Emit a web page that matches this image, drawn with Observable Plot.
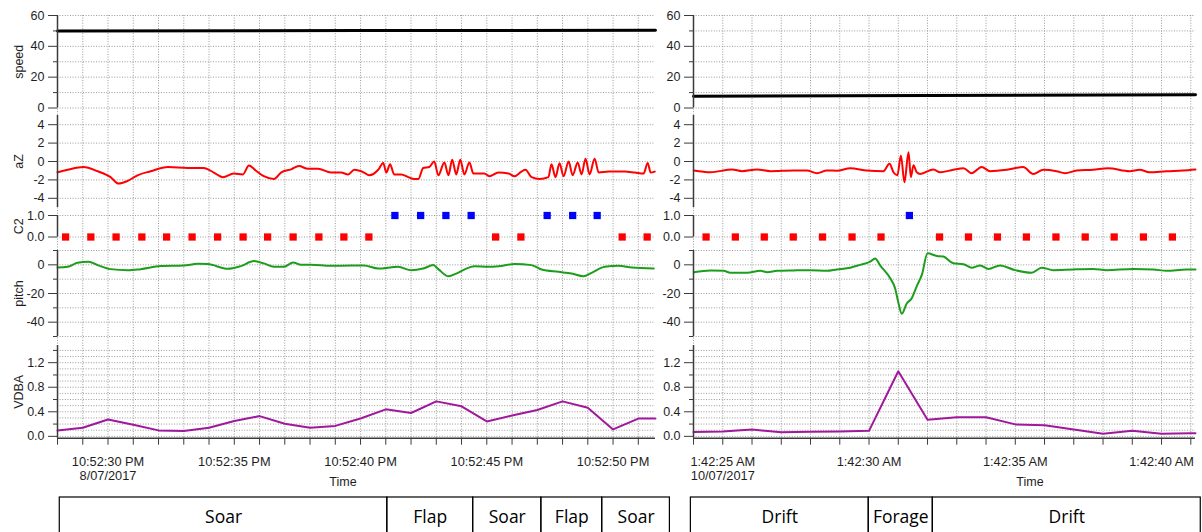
<!DOCTYPE html>
<html><head><meta charset="utf-8">
<script src="https://cdn.jsdelivr.net/npm/d3@7"></script>
<script src="https://cdn.jsdelivr.net/npm/@observablehq/plot@0.6"></script>
<style>
html,body{margin:0;padding:0;background:#fff;overflow:hidden;}
#root{position:relative;width:1202px;height:532px;overflow:hidden;font-family:"Liberation Sans",Arial,sans-serif;}
#root svg{position:absolute;}
.xt{position:absolute;font:12.5px "Liberation Sans",Arial,sans-serif;color:#1e1e1e;transform:translateX(-50%);white-space:nowrap;}
</style></head><body><div id="root"></div>
<script>
// ---------- DATA (seconds past the minute) ----------
// Left recording: 8/07/2017 10:52 PM
const speedLeftT = [28, 40, 51.68];
const speedLeftV = [50.0, 50.2, 50.4];
const azLeftT = [28.00,28.40,29.03,29.59,30.10,30.42,30.78,31.17,31.69,32.37,33.16,33.79,34.19,34.55,34.98,35.34,35.58,35.86,36.17,36.57,36.85,37.25,37.56,37.92,38.32,38.83,39.23,39.51,39.75,40.14,40.34,40.70,40.90,41.02,41.17,41.33,41.61,41.89,42.13,42.29,42.48,42.72,42.92,43.08,43.32,43.48,43.63,43.79,43.95,44.11,44.31,44.47,44.90,45.10,45.46,45.86,46.10,46.37,46.53,46.77,47.09,47.44,47.56,47.72,47.88,48.04,48.24,48.40,48.60,48.75,48.91,49.07,49.27,49.43,49.83,50.46,50.86,51.21,51.37,51.49,51.65];
const azLeftV = [-1.17,-0.9,-0.6,-1.06,-1.7,-2.4,-2.1,-1.5,-1.06,-0.6,-0.7,-0.7,-1.2,-1.7,-1.3,-1.4,-0.43,-1.0,-1.6,-1.9,-1.2,-0.85,-0.5,-0.8,-0.8,-1.2,-1.2,-1.4,-0.9,-1.2,-1.5,-0.9,-0.15,-1.2,-0.3,-1.4,-1.4,-1.7,-1.9,-1.9,-0.7,-0.6,0.0,-1.5,-0.1,-1.5,0.2,-1.4,0.2,-1.4,-0.1,-1.3,-1.3,-1.6,-1.2,-1.3,-1.6,-1.1,-0.9,-1.7,-1.9,-1.7,-0.3,-1.7,-0.2,-1.6,0.0,-1.5,-0.1,-1.4,0.3,-1.4,0.3,-1.2,-1.1,-1.1,-1.2,-1.3,-0.15,-1.2,-1.1];
const c2LeftT = [28.32,29.32,30.32,31.34,32.32,33.33,34.34,35.35,36.32,37.33,38.35,39.34,40.33,41.36,42.38,43.38,44.38,45.35,46.35,47.39,48.40,49.37,50.36,51.35];
const c2LeftV = [0,0,0,0,0,0,0,0,0,0,0,0,0,1,1,1,1,0,0,1,1,1,0,0];
const pitchLeftT = [28.00,28.40,28.79,29.23,29.59,30.10,30.78,31.29,32.09,33.00,33.56,33.95,34.75,35.26,35.78,36.17,36.57,36.97,37.33,37.64,38.04,38.83,39.63,40.14,40.70,41.49,42.01,42.48,42.88,43.08,43.48,43.79,44.11,44.51,45.06,45.46,46.10,46.77,47.17,47.84,48.36,48.83,49.15,49.67,50.22,50.74,51.61];
const pitchLeftV = [-1.9,-1.4,1.4,2.1,-0.2,-3.0,-3.8,-3.0,-0.9,-0.5,0.7,0.5,-2.8,-0.9,2.6,1.0,-1.4,-1.4,1.7,0,0,-0.7,-0.5,-0.5,-2.6,-1.4,-3.8,-2.6,-0.2,-3.0,-8.0,-6.1,-3.3,-1.0,-1.4,-1.0,0.5,-0.2,-3.3,-4.9,-6.1,-8.0,-5.6,-1.4,-0.7,-1.9,-2.6];
const vdbaLeftT = [28,29,30,31,32,33,34,35,36,37,38,39,40,41,42,43,44,45,46,47,48,49,50,51,51.68];
const vdbaLeftV = [0.097,0.14,0.275,0.19,0.097,0.086,0.14,0.25,0.33,0.205,0.14,0.17,0.29,0.44,0.38,0.57,0.49,0.243,0.34,0.43,0.57,0.465,0.113,0.29,0.29];
const leftXLabelSec = [30, 35, 40, 45, 50];
const leftXLabels = ["10:52:30 PM\n8/07/2017", "10:52:35 PM", "10:52:40 PM", "10:52:45 PM", "10:52:50 PM"];
const leftSegLabels = ["Soar", "Flap", "Soar", "Flap", "Soar"];
const leftSegBounds = [28.09, 41.06, 44.46, 47.16, 49.57, 52.25];

// Right recording: 10/07/2017 1:42 AM
const speedRightT = [24, 32, 41.16];
const speedRightV = [7.7, 8.1, 8.6];
const azRightT = [24.01,24.58,25.32,25.66,26.17,26.63,27.42,27.88,28.22,28.56,28.90,29.36,29.93,30.49,30.70,30.84,30.97,31.09,31.21,31.35,31.43,31.52,31.63,31.75,32.20,32.43,32.88,33.23,33.51,33.85,34.14,34.71,35.27,35.61,35.96,36.41,36.70,37.10,37.66,38.17,38.91,39.25,39.59,40.17,40.73,41.16];
const azRightV = [-0.98,-1.17,-0.87,-1.05,-0.87,-1.05,-0.98,-0.98,-1.27,-0.98,-1.0,-0.73,-0.98,-1.05,-0.25,-1.2,-1.5,0.65,-2.26,1.0,-1.7,-0.4,-1.17,-1.35,-0.87,-1.17,-0.9,-0.73,-1.27,-0.6,-1.05,-0.9,-0.6,-1.35,-0.9,-1.05,-1.27,-0.98,-0.9,-0.73,-1.05,-0.9,-1.17,-1.05,-0.98,-0.87];
const c2RightT = [24.43,25.43,26.42,27.41,28.41,29.42,30.41,31.38,32.41,33.40,34.39,35.38,36.39,37.39,38.38,39.38,40.37];
const c2RightV = [0,0,0,0,0,0,0,1,0,0,0,0,0,0,0,0,0];
const pitchRightT = [24.01,24.58,25.03,25.26,25.83,26.29,26.52,26.86,27.42,27.99,28.56,28.90,29.36,29.70,30.04,30.21,30.38,30.72,30.89,31.01,31.12,31.29,31.46,31.63,31.81,32.00,32.32,32.54,32.88,33.23,33.51,33.80,34.08,34.48,34.99,35.56,35.90,36.30,36.98,37.66,38.12,39.03,39.71,40.17,40.85,41.16];
const pitchRightV = [-5.1,-3.9,-4.2,-5.5,-5.5,-4.2,-5.1,-4.2,-3.9,-3.7,-4.2,-3.2,-2.0,0,2.2,4.4,-0.4,-9.2,-16.3,-27,-34.1,-27,-23.3,-15,-6.7,8.0,6.2,5.8,1.1,0.4,-2,-0.4,-2.9,-0.4,-3.7,-5.5,-2.0,-3.7,-3.2,-2.9,-3.7,-2.9,-3.2,-4.2,-3.2,-3.2];
const vdbaRightT = [24,25,26,27,28,29,30,31,32,33,34,35,36,37,38,39,40,41,41.16];
const vdbaRightV = [0.07,0.08,0.11,0.065,0.075,0.08,0.09,1.06,0.27,0.31,0.31,0.195,0.18,0.11,0.044,0.09,0.044,0.05,0.05];
const rightXLabelSec = [25, 30, 35, 40];
const rightXLabels = ["1:42:25 AM\n10/07/2017", "1:42:30 AM", "1:42:35 AM", "1:42:40 AM"];
const rightSegLabels = ["Drift", "Forage", "Drift"];
const rightSegBounds = [23.91, 29.99, 32.18, 41.34];

// y-axis ticks
const speedTicks = [0, 20, 40, 60], speedMinor = [10, 30, 50], speedGrid = [0,10,20,30,40,50,60];
const azTicks = [-4, -2, 0, 2, 4];
const c2Ticks = [0, 1];
const pitchTicks = [0, -20, -40], pitchMinor = [10, -10, -30, -50], pitchGrid = [10,0,-10,-20,-30,-40,-50];
const vdbaTicks = [0, 0.4, 0.8, 1.2], vdbaMinor = [0.2, 0.6, 1.0, 1.4], vdbaGrid = [0,0.1,0.2,0.3,0.4,0.5,0.6,0.7,0.8,0.9,1.0,1.1,1.2,1.3,1.4];

// ---------- LAYOUT ----------
const L0 = Date.UTC(2017, 6, 8, 22, 52, 0);
const R0 = Date.UTC(2017, 6, 10, 1, 42, 0);
const at = (base, s) => new Date(base + Math.round(s * 1000));
const series = (base, T, V) => T.map((t, i) => ({t: at(base, t), v: V[i]}));

const LEFT = {left: 0, width: 680, ml: 57, mr: 25, base: L0, domain: [at(L0, 28), at(L0, 51.68)],
  secs: d3.utcSecond.range(at(L0, 28), at(L0, 51.9)), labSec: leftXLabelSec, labs: leftXLabels, titles: true};
const RIGHT = {left: 633, width: 569, ml: 60, mr: 7, base: R0, domain: [at(R0, 24), at(R0, 41.16)],
  secs: d3.utcSecond.range(at(R0, 24), at(R0, 41.1)), labSec: rightXLabelSec, labs: rightXLabels, titles: false};

const rows = {speed: [15, 107.5], aZ: [115, 207], C2: [215, 236.5], pitch: [250, 336], VDBA: [345, 437.7]};
const GRID = "#9a9a9a", DASH = "1,1.6", AX = "#3a3a3a", TXT = "#1e1e1e";
const FONT = "'Liberation Sans', Arial, sans-serif";
const root = document.getElementById("root");

function bgGrid(S) {
  const top = rows.speed[0], bottom = rows.VDBA[1];
  const p = Plot.plot({
    width: S.width, height: bottom - top + 10, marginLeft: S.ml, marginRight: S.mr, marginTop: 10, marginBottom: 0,
    x: {type: "utc", domain: S.domain, axis: null},
    style: {background: "transparent"},
    marks: [Plot.gridX(S.secs, {stroke: GRID, strokeOpacity: 1, strokeDasharray: DASH})]
  });
  p.style.left = S.left + "px"; p.style.top = (top - 10) + "px";
  root.appendChild(p);
}

function panel(S, row, cfg) {
  const [top, bottom] = rows[row];
  const mt = 12, mb = cfg.mb ?? 8;
  const marks = [
    Plot.gridY(cfg.grid, {stroke: GRID, strokeOpacity: 1, strokeDasharray: DASH}),
    ...cfg.marks,
    Plot.ruleX([S.domain[0]], {stroke: AX, strokeWidth: 1.5})
  ];
  if (cfg.minor) marks.push(Plot.axisY(cfg.minor, {tickSize: 4, tickFormat: () => "", stroke: AX, label: null}));
  marks.push(Plot.axisY(cfg.ticks, {tickSize: 9, tickPadding: 4, tickFormat: cfg.fmt, stroke: AX, fill: TXT, fontSize: 12.5, label: null}));
  if (S.titles) marks.push(Plot.text([row], {text: d => d, frameAnchor: "left", textAnchor: "middle", lineAnchor: "middle",
    rotate: -90, dx: -39, fontSize: 12.5, fill: TXT}));
  if (cfg.xaxis) {
    const lab = new Map(S.labSec.map((s, i) => [+at(S.base, s), S.labs[i]]));
    marks.push(Plot.ruleY([cfg.domain[0]], {stroke: AX, strokeWidth: 1.5}));
    marks.push(Plot.axisX(S.secs, {tickSize: 7, tickPadding: 10, stroke: AX, fill: TXT, fontSize: 12.8, lineHeight: 1.15,
      tickFormat: d => lab.get(+d) ?? "", label: null}));
  }
  const p = Plot.plot({
    width: S.width, height: mt + (bottom - top) + mb,
    marginLeft: S.ml, marginRight: S.mr, marginTop: mt, marginBottom: mb,
    x: {type: "utc", domain: S.domain, axis: null, label: null},
    y: {domain: cfg.domain, label: null},
    style: {background: "transparent", fontFamily: FONT, fontSize: "12px", color: TXT},
    marks
  });
  p.style.left = S.left + "px"; p.style.top = (top - mt) + "px";
  root.appendChild(p);
}

function segTable(S, bounds, labels) {
  const segs = labels.map((l, i) => ({label: l, x1: at(S.base, bounds[i]), x2: at(S.base, bounds[i + 1])}));
  const p = Plot.plot({
    width: S.width, height: 45, marginLeft: S.ml, marginRight: S.mr, marginTop: 1, marginBottom: 0,
    x: {type: "utc", domain: S.domain, axis: null},
    style: {background: "transparent"},
    marks: [
      Plot.rect(segs, {x1: "x1", x2: "x2", fill: "none", stroke: "#000", strokeWidth: 1.2}),
      Plot.text(segs, {x: d => new Date((+d.x1 + +d.x2) / 2), text: "label", frameAnchor: "top", lineAnchor: "bottom",
        dy: 25, fontSize: 17.5, fontFamily: "'Open Sans', 'Noto Sans', sans-serif", fill: "#000"})
    ]
  });
  p.style.left = S.left + "px"; p.style.top = "496px";
  root.appendChild(p);
}

function side(S, d) {
  bgGrid(S);
  const b = S.base;
  panel(S, "speed", {domain: [0, 60], ticks: speedTicks, minor: speedMinor, grid: speedGrid, fmt: d3.format("d"),
    marks: [Plot.line(series(b, d.speedT, d.speedV), {x: "t", y: "v", stroke: "#000", strokeWidth: 3})]});
  panel(S, "aZ", {domain: [-5, 5], ticks: azTicks, grid: azTicks, fmt: d => d.toFixed(0),
    marks: [Plot.line(series(b, d.azT, d.azV), {x: "t", y: "v", stroke: "#ff0000", strokeWidth: 2, curve: "monotone-x"})]});
  const c2 = series(b, d.c2T, d.c2V);
  panel(S, "C2", {domain: [0, 1], ticks: c2Ticks, grid: c2Ticks, fmt: d => d.toFixed(1),
    marks: [
      Plot.dot(c2, {filter: e => e.v === 0, x: "t", y: "v", symbol: "square", r: 4.1, fill: "#ff0000", stroke: "none"}),
      Plot.dot(c2, {filter: e => e.v === 1, x: "t", y: "v", symbol: "square", r: 4.1, fill: "#0000ff", stroke: "none"})
    ]});
  panel(S, "pitch", {domain: [-50, 10], ticks: pitchTicks, minor: pitchMinor, grid: pitchGrid, fmt: d => d.toFixed(0),
    marks: [Plot.line(series(b, d.pitchT, d.pitchV), {x: "t", y: "v", stroke: "#1c9e1c", strokeWidth: 2, curve: "monotone-x"})]});
  panel(S, "VDBA", {domain: [-0.03, 1.48], ticks: vdbaTicks, minor: vdbaMinor, grid: vdbaGrid, fmt: d => d.toFixed(1),
    xaxis: true, mb: 60,
    marks: [Plot.line(series(b, d.vdbaT, d.vdbaV), {x: "t", y: "v", stroke: "#a0189c", strokeWidth: 2})]});
  segTable(S, d.segBounds, d.segLabels);
}

side(LEFT, {speedT: speedLeftT, speedV: speedLeftV, azT: azLeftT, azV: azLeftV, c2T: c2LeftT, c2V: c2LeftV,
  pitchT: pitchLeftT, pitchV: pitchLeftV, vdbaT: vdbaLeftT, vdbaV: vdbaLeftV, segBounds: leftSegBounds, segLabels: leftSegLabels});
side(RIGHT, {speedT: speedRightT, speedV: speedRightV, azT: azRightT, azV: azRightV, c2T: c2RightT, c2V: c2RightV,
  pitchT: pitchRightT, pitchV: pitchRightV, vdbaT: vdbaRightT, vdbaV: vdbaRightV, segBounds: rightSegBounds, segLabels: rightSegLabels});

// x-axis titles
for (const x of [343, 1030]) {
  const el = document.createElement("div");
  el.className = "xt"; el.textContent = "Time";
  el.style.left = x + "px"; el.style.top = "475px";
  root.appendChild(el);
}
</script></body></html>
